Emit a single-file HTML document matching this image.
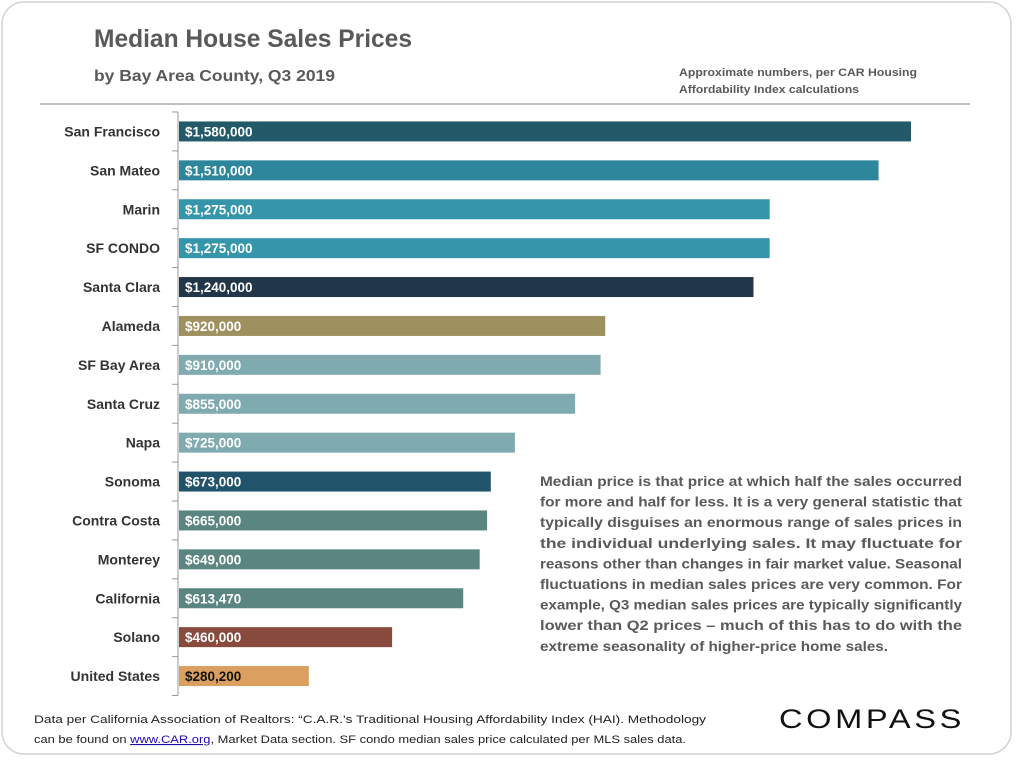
<!DOCTYPE html>
<html><head><meta charset="utf-8"><style>
body{margin:0;background:#fff;font-family:"Liberation Sans",sans-serif}
svg{display:block}
</style></head><body>
<svg id="chart" width="1024" height="761" viewBox="0 0 1024 761" xmlns="http://www.w3.org/2000/svg">
<rect x="2" y="2" width="1009" height="752" rx="22" fill="#fff" stroke="#d4d4d4" stroke-width="1.5"/>
<text x="94" y="47" font-size="25" font-weight="bold" fill="#595959" textLength="318" lengthAdjust="spacingAndGlyphs">Median House Sales Prices</text>
<text x="94" y="81" font-size="15.5" font-weight="bold" fill="#595959" textLength="241" lengthAdjust="spacingAndGlyphs">by Bay Area County, Q3 2019</text>
<text x="679" y="76" font-size="11" font-weight="bold" fill="#595959" textLength="238" lengthAdjust="spacingAndGlyphs">Approximate numbers, per CAR Housing</text>
<text x="679" y="93" font-size="11" font-weight="bold" fill="#595959" textLength="180" lengthAdjust="spacingAndGlyphs">Affordability Index calculations</text>
<line x1="40" y1="104" x2="970" y2="104" stroke="#9a9a9a" stroke-width="1.3"/>
<g id="bars"></g>
<g id="para" font-size="13.5" font-weight="bold" fill="#595959"></g>
<text x="34" y="723" font-size="11" fill="#222" textLength="672" lengthAdjust="spacingAndGlyphs">Data per  California Association of Realtors: “C.A.R.'s Traditional Housing Affordability Index (HAI). Methodology</text>
<text x="34" y="743" font-size="11" fill="#222" textLength="652" lengthAdjust="spacingAndGlyphs">can be found on <tspan fill="#1a0dab" text-decoration="underline">www.CAR.org</tspan>,  Market Data section. SF condo median sales price calculated per MLS sales data.</text>
<text x="779" y="728" font-size="27" fill="#111" textLength="186" lengthAdjust="spacingAndGlyphs" letter-spacing="3">COMPASS</text>
</svg>
<script>
const categories=["San Francisco","San Mateo","Marin","SF CONDO","Santa Clara","Alameda","SF Bay Area","Santa Cruz","Napa","Sonoma","Contra Costa","Monterey","California","Solano","United States"];
const values=[1580000,1510000,1275000,1275000,1240000,920000,910000,855000,725000,673000,665000,649000,613470,460000,280200];
const labels=["$1,580,000","$1,510,000","$1,275,000","$1,275,000","$1,240,000","$920,000","$910,000","$855,000","$725,000","$673,000","$665,000","$649,000","$613,470","$460,000","$280,200"];
const colors=["#235a69","#2e869c","#3596ab","#3596ab","#22364a","#9f9060","#7eaab0","#7eaab0","#7eaab0","#21546a","#5b8580","#5b8580","#5b8580","#884a3c","#dba060"];
const paraLines=["Median price is that price at which half the sales occurred","for more and half for less. It is a very general statistic that","typically disguises an enormous range of sales prices in","the individual underlying sales. It may fluctuate for","reasons other than changes in fair market value. Seasonal","fluctuations in median sales prices are very common. For","example, Q3 median sales prices are typically significantly","lower than Q2 prices – much of this has to do with the","extreme seasonality of higher-price home sales."];
const NS="http://www.w3.org/2000/svg";
const x0=178, xScale=v=>v*(732/1580000);
const yTop=112, step=38.9;
const yRow=i=>yTop+i*step;
const g=document.getElementById('bars');
function mk(t,a,p){const e=document.createElementNS(NS,t);for(const k in a)e.setAttribute(k,a[k]);p.appendChild(e);return e;}
const axis=mk('line',{x1:x0,y1:yTop,x2:x0,y2:yTop+categories.length*step,stroke:'#999','stroke-width':1},g);


for(let i=0;i<=categories.length;i++){
  const t=mk('line',{x1:x0-6,y1:yRow(i),x2:x0,y2:yRow(i),stroke:'#999','stroke-width':1},g);
  
  
}
categories.forEach((c,i)=>{
  const cy=yRow(i)+step/2;
  const r=mk('rect',{x:x0+1,y:cy-10,width:xScale(values[i]),height:20,fill:colors[i]},g);
  
  
  const l=mk('text',{x:x0-18,y:cy+5,'text-anchor':'end','font-size':14,'font-weight':'bold',fill:'#333'},g);
  l.textContent=c;
  
  
  const v=mk('text',{x:x0+7,y:cy+5,'font-size':13.5,'font-weight':'bold',fill:i==categories.length-1?'#111':'#fff'},g);
  v.textContent=labels[i];
  
  
});
const p=document.getElementById('para');
paraLines.forEach((s,i)=>{
  const a={x:540,y:486+i*20.6};
  if(i<paraLines.length-1){a.textLength=422;a.lengthAdjust='spacingAndGlyphs';}
  else{a.textLength=348;a.lengthAdjust='spacingAndGlyphs';}
  const t=mk('text',a,p);
  t.textContent=s;
  
  
});
</script>
</body></html>
